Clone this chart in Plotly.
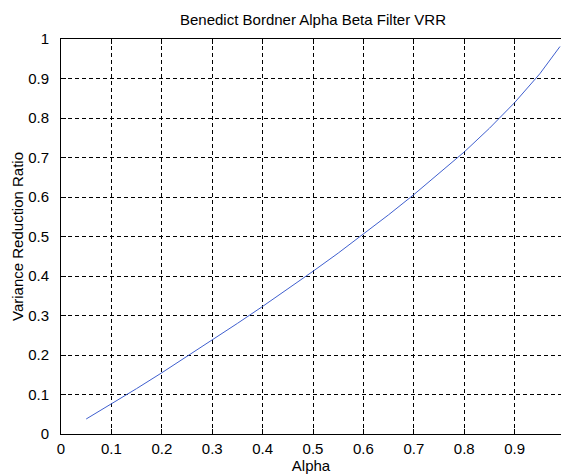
import plotly.graph_objects as go

alpha = [0.05, 0.10, 0.15, 0.20, 0.25, 0.30, 0.35, 0.40, 0.45, 0.50,
         0.55, 0.60, 0.65, 0.70, 0.75, 0.80, 0.85, 0.90, 0.95, 0.99]
vrr = [0.038, 0.076, 0.115, 0.155, 0.196, 0.237, 0.280, 0.323, 0.367, 0.412,
       0.458, 0.506, 0.555, 0.606, 0.659, 0.714, 0.774, 0.839, 0.912, 0.981]

x_ticks = [0, 0.1, 0.2, 0.3, 0.4, 0.5, 0.6, 0.7, 0.8, 0.9, 1.0]
x_tick_labels = ["0", "0.1", "0.2", "0.3", "0.4", "0.5", "0.6", "0.7", "0.8", "0.9", "1"]
y_ticks = [0, 0.1, 0.2, 0.3, 0.4, 0.5, 0.6, 0.7, 0.8, 0.9, 1.0]
y_tick_labels = ["0", "0.1", "0.2", "0.3", "0.4", "0.5", "0.6", "0.7", "0.8", "0.9", "1"]

FONT = "Liberation Sans, Arial, sans-serif"

W, H = 561, 474

fig = go.Figure()
fig.add_trace(go.Scatter(x=alpha, y=vrr, mode="lines",
                         line=dict(color="#3f5fcf", width=1),
                         showlegend=False))

fig.update_layout(
    width=W, height=H,
    margin=dict(l=61, r=0, t=39, b=40),
    paper_bgcolor="white", plot_bgcolor="white",
    font=dict(family=FONT, size=15, color="black"),
    title=dict(text="Benedict Bordner Alpha Beta Filter VRR",
               x=313 / W, xref="container", xanchor="center",
               y=1 - 20 / H, yref="container", yanchor="middle",
               font=dict(family=FONT, size=15, color="black")),
    xaxis=dict(range=[0, 0.992], tickvals=x_ticks, ticktext=x_tick_labels,
               showgrid=True, gridcolor="black", gridwidth=1, griddash="4px,3px",
               showline=True, linecolor="black", linewidth=1, mirror="ticks",
               ticks="inside", ticklen=5, tickcolor="black",
               zeroline=False, ticklabelstandoff=1, automargin=False,
               title=dict(text="Alpha", standoff=2, font=dict(size=15))),
    yaxis=dict(range=[0, 1], tickvals=y_ticks, ticktext=y_tick_labels,
               showgrid=True, gridcolor="black", gridwidth=1, griddash="4px,3px",
               showline=True, linecolor="black", linewidth=1, mirror=False,
               ticks="inside", ticklen=5, tickcolor="black",
               zeroline=False, ticklabelstandoff=8, automargin=False,
               title=dict(text="Variance Reduction Ratio", standoff=0, font=dict(size=15))),
)

fig.write_html("out.html",
               config={"displayModeBar": False},
               post_script="document.body.style.margin='0';document.body.style.overflow='hidden';")
